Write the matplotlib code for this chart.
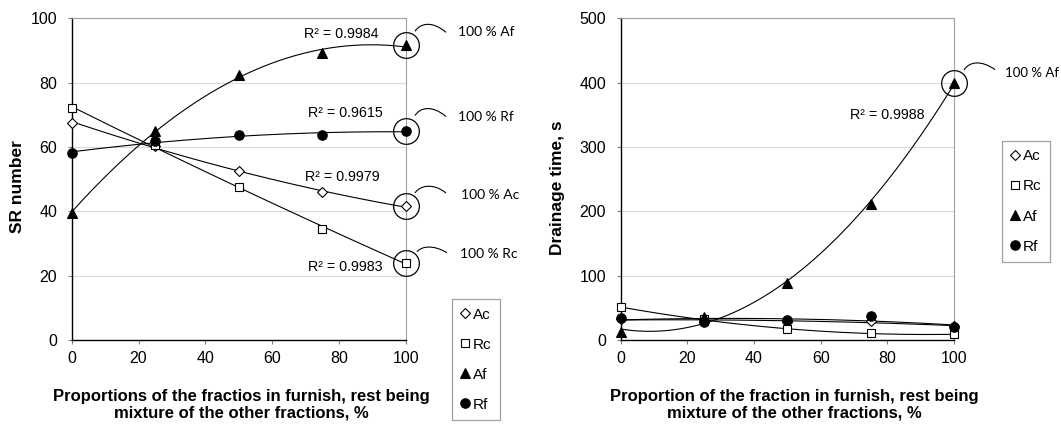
import numpy as np
import matplotlib
matplotlib.use('Agg')
import matplotlib.pyplot as plt
from matplotlib.path import Path
from matplotlib.patches import PathPatch
import matplotlib.transforms as mtransforms

plt.rcParams['font.family'] = ['Liberation Sans', 'DejaVu Sans']

# ---------------- data ----------------
proportion = [0, 25, 50, 75, 100]
series_names = ['Ac', 'Rc', 'Af', 'Rf']

sr_ac = [67.6, 60.3, 52.4, 45.9, 41.5]
sr_rc = [72.2, 60.5, 47.5, 34.5, 24.0]
sr_af = [39.5, 65.1, 82.3, 89.1, 91.6]
sr_rf = [58.2, 61.8, 63.6, 63.6, 65.1]
sr_r2_labels = ['R² = 0.9979', 'R² = 0.9983', 'R² = 0.9984', 'R² = 0.9615']

dr_ac = [32, 30, 28.5, 30, 21]
dr_rc = [51, 32, 16.6, 10.4, 8.8]
dr_af = [13, 35, 88, 212, 400]
dr_rf = [34, 28.5, 31, 37, 20]
dr_r2_label = 'R² = 0.9988'

sr_xticks = [0, 20, 40, 60, 80, 100]
sr_yticks = [0, 20, 40, 60, 80, 100]
dr_yticks = [0, 100, 200, 300, 400, 500]

W, H = 1061, 425
fig = plt.figure(figsize=(W / 100, H / 100), dpi=100)


def fx(px):
    return px / W


def fy(py):
    return 1 - py / H


ax1 = fig.add_axes([fx(71.7), fy(340), fx(406 - 71.7), (340 - 18.3) / H])
ax2 = fig.add_axes([fx(620.7), fy(340), fx(954 - 620.7), (340 - 18.3) / H])

marker_styles = {
    'Ac': dict(marker='D', ms=4.6, mfc='white', mec='black', mew=0.8),
    'Rc': dict(marker='s', ms=6.2, mfc='white', mec='black', mew=0.8),
    'Af': dict(marker='^', ms=7.0, mfc='black', mec='black', mew=0.8),
    'Rf': dict(marker='o', ms=6.8, mfc='black', mec='black', mew=0.8),
}

grid_col = '#d9d9d9'
frame_gray = '#a0a0a0'


def style_axes(ax, yticks, ylim):
    ax.set_xlim(0, 100)
    ax.set_ylim(*ylim)
    ax.set_xticks(sr_xticks)
    ax.set_yticks(yticks)
    for y in yticks[1:-1]:
        ax.axhline(y, color=grid_col, lw=0.8, zorder=0)
    ax.spines['left'].set_color('black')
    ax.spines['bottom'].set_color('black')
    ax.spines['left'].set_linewidth(1.0)
    ax.spines['bottom'].set_linewidth(1.0)
    ax.spines['top'].set_color(frame_gray)
    ax.spines['right'].set_color(frame_gray)
    ax.spines['top'].set_linewidth(0.8)
    ax.spines['right'].set_linewidth(0.8)
    ax.tick_params(axis='both', direction='out', length=3, width=0.8,
                   color='#808080', labelsize=11.5, labelcolor='black')
    ax.tick_params(axis='y', pad=7.5)
    ax.tick_params(axis='x', pad=5)


def plot_series(ax, data):
    xs = np.array(proportion, dtype=float)
    xx = np.linspace(0, 100, 200)
    handles = []
    for name, ys in zip(series_names, data):
        coef = np.polyfit(xs, np.array(ys, dtype=float), 2)
        ax.plot(xx, np.polyval(coef, xx), color='black', lw=0.8, zorder=2)
    for name, ys in zip(series_names, data):
        h, = ax.plot(proportion, ys, linestyle='none', label=name,
                     clip_on=False, zorder=4, **marker_styles[name])
        handles.append(h)
    return handles


def callout(ax, yval, pts, text_off, label, size=10):
    trans = fig.dpi_scale_trans + mtransforms.ScaledTranslation(100, yval, ax.transData)
    ax.plot([100], [yval], marker='o', ms=18.5, mfc='none', mec='black',
            mew=0.9, clip_on=False, zorder=5)
    verts = [(px / 100, py / 100) for px, py in pts]
    path = Path(verts, [Path.MOVETO, Path.CURVE4, Path.CURVE4, Path.CURVE4])
    patch = PathPatch(path, fill=False, lw=0.8, edgecolor='black',
                      transform=trans, clip_on=False)
    ax.add_patch(patch)
    ax.text(text_off[0] / 100, text_off[1] / 100, label, transform=trans,
            ha='left', va='center', fontsize=size, family=['Lato', 'DejaVu Sans'],
            clip_on=False)


xlabel_kw = dict(fontsize=12, fontweight='bold', linespacing=1.15)

# ---------------- left chart ----------------
style_axes(ax1, sr_yticks, (0, 100))
h1 = plot_series(ax1, [sr_ac, sr_rc, sr_af, sr_rf])
ax1.set_ylabel('SR number', fontsize=12.5, fontweight='bold')
ax1.yaxis.set_label_coords(fx(25), fy(187), transform=fig.transFigure)
ax1.set_xlabel('Proportions of the fractios in furnish, rest being\nmixture of the other fractions, %',
               **xlabel_kw)
ax1.xaxis.set_label_coords(fx(241), fy(389), transform=fig.transFigure)

r2_pos = [(380, 176.7), (383, 266.7), (379, 34), (383, 113.3)]
for lab, (px, py) in zip(sr_r2_labels, r2_pos):
    fig.text(fx(px), fy(py), lab, ha='right', va='center', fontsize=10.3)

callout(ax1, sr_af[-1], [(9, 14), (14, 22), (26, 25), (40, 13)], (52, 13.5), '100 % Af')
callout(ax1, sr_rf[-1], [(9, 15), (14, 23), (26, 26), (40, 14)], (52, 13.5), '100 % Rf')
callout(ax1, sr_ac[-1], [(9, 13.5), (14, 21), (27, 24), (40, 13.5)], (55, 11.5), '100 % Ac')
callout(ax1, sr_rc[-1], [(11, 11), (16, 17), (28, 18), (41, 10)], (54, 9), '100 % Rc')

leg1 = ax1.legend(handles=h1, loc='center', bbox_to_anchor=(fx(476), fy(359.7)),
                  bbox_transform=fig.transFigure, fontsize=11, frameon=True,
                  fancybox=False, edgecolor=frame_gray, framealpha=1,
                  handlelength=0.6, handletextpad=0.25, labelspacing=1.05,
                  borderpad=0.55, borderaxespad=0)
leg1.get_frame().set_linewidth(0.9)

# ---------------- right chart ----------------
style_axes(ax2, dr_yticks, (0, 500))
h2 = plot_series(ax2, [dr_ac, dr_rc, dr_af, dr_rf])
ax2.set_ylabel('Drainage time, s', fontsize=12.5, fontweight='bold')
ax2.yaxis.set_label_coords(fx(565), fy(188), transform=fig.transFigure)
ax2.set_xlabel('Proportion of the fraction in furnish, rest being\nmixture of the other fractions, %',
               **xlabel_kw)
ax2.xaxis.set_label_coords(fx(794), fy(389), transform=fig.transFigure)

fig.text(fx(924), fy(115), dr_r2_label, ha='right', va='center', fontsize=10.3)
callout(ax2, dr_af[-1], [(10, 12.5), (15, 21), (27, 23), (41, 13)], (51, 10), '100 % Af', size=9.5)

leg2 = ax2.legend(handles=h2, loc='center', bbox_to_anchor=(fx(1026), fy(201.5)),
                  bbox_transform=fig.transFigure, fontsize=11, frameon=True,
                  fancybox=False, edgecolor=frame_gray, framealpha=1,
                  handlelength=0.6, handletextpad=0.25, labelspacing=1.05,
                  borderpad=0.55, borderaxespad=0)
leg2.get_frame().set_linewidth(0.9)

fig.savefig('out.png', dpi=100)
